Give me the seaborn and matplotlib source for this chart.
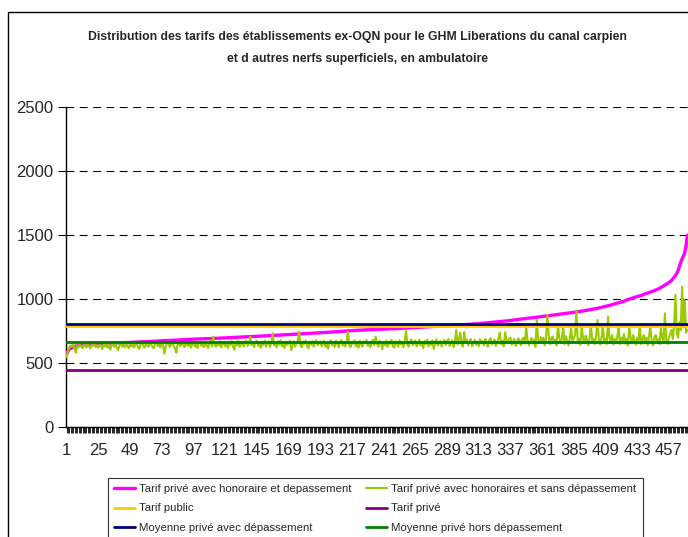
import matplotlib
matplotlib.use("Agg")
import matplotlib.pyplot as plt
from matplotlib.patches import Rectangle
from matplotlib.lines import Line2D
import numpy as np
import pandas as pd
import seaborn as sns

# ---------------- data ----------------
title = ("Distribution des tarifs des établissements ex-OQN pour le GHM Liberations du canal carpien\n"
         "et d autres nerfs superficiels, en ambulatoire")

tarif_avec_depassement = [
    570, 595, 610, 616, 620, 626, 631, 635, 637, 638, 640, 641, 642, 644, 645, 645, 646, 647, 648, 648, 649, 650, 650, 651,
    651, 652, 652, 653, 654, 654, 655, 656, 656, 657, 657, 658, 658, 659, 659, 660, 660, 661, 661, 662, 662, 662, 663, 663,
    664, 664, 664, 665, 665, 666, 666, 667, 667, 668, 668, 668, 669, 669, 670, 670, 671, 672, 672, 673, 673, 674, 675, 675,
    676, 676, 677, 677, 678, 678, 679, 679, 680, 680, 681, 681, 682, 682, 683, 684, 684, 685, 685, 686, 686, 687, 687, 688,
    688, 689, 689, 690, 690, 690, 691, 691, 691, 692, 692, 692, 693, 693, 694, 694, 695, 695, 696, 696, 697, 697, 698, 698,
    699, 699, 700, 700, 701, 701, 702, 702, 703, 703, 704, 704, 705, 705, 706, 706, 707, 707, 708, 708, 709, 709, 710, 711,
    711, 712, 712, 713, 713, 714, 714, 715, 715, 716, 717, 717, 718, 718, 719, 719, 720, 720, 721, 721, 722, 723, 723, 724,
    724, 725, 725, 726, 727, 727, 728, 728, 729, 730, 730, 731, 731, 732, 732, 733, 734, 734, 735, 736, 736, 737, 737, 738,
    739, 739, 740, 741, 741, 742, 743, 743, 744, 745, 745, 746, 747, 747, 748, 749, 749, 750, 751, 752, 752, 753, 754, 754,
    755, 756, 756, 757, 758, 758, 759, 759, 760, 760, 761, 761, 762, 762, 763, 763, 764, 764, 765, 765, 766, 766, 767, 767,
    768, 768, 768, 769, 769, 770, 770, 770, 771, 771, 772, 772, 773, 773, 774, 775, 775, 776, 776, 777, 778, 778, 779, 779,
    780, 780, 781, 781, 782, 783, 783, 784, 784, 785, 786, 786, 787, 787, 788, 788, 789, 790, 790, 791, 791, 792, 793, 793,
    794, 794, 795, 795, 796, 797, 797, 798, 798, 799, 800, 800, 801, 802, 803, 803, 804, 805, 805, 806, 807, 808, 809, 810,
    810, 811, 812, 813, 814, 815, 816, 817, 818, 819, 820, 821, 822, 823, 824, 825, 826, 827, 828, 829, 830, 831, 832, 833,
    835, 836, 837, 839, 840, 841, 843, 844, 845, 847, 848, 849, 850, 852, 853, 854, 855, 857, 858, 859, 860, 862, 863, 864,
    866, 867, 868, 869, 871, 872, 873, 875, 876, 877, 879, 880, 882, 883, 885, 886, 888, 889, 890, 891, 893, 894, 895, 897,
    898, 900, 901, 903, 904, 906, 908, 909, 911, 913, 915, 916, 918, 920, 922, 924, 926, 928, 930, 932, 935, 937, 940, 942,
    945, 947, 950, 952, 955, 958, 961, 964, 967, 970, 973, 976, 979, 982, 985, 990, 995, 998, 1002, 1005, 1008, 1012, 1015, 1018,
    1021, 1024, 1027, 1030, 1034, 1038, 1042, 1045, 1049, 1053, 1056, 1060, 1064, 1068, 1072, 1076, 1081, 1086, 1092, 1098, 1104, 1110, 1117, 1124,
    1131, 1138, 1148, 1160, 1172, 1186, 1203, 1225, 1255, 1290, 1315, 1338, 1360, 1420, 1500,
]

tarif_sans_depassement = [
    548, 600, 622, 640, 628, 646, 620, 582, 640, 626, 648, 632, 618, 646, 638, 624, 650, 630, 616, 644, 636, 652, 628, 640,
    622, 648, 636, 612, 650, 630, 644, 622, 652, 606, 640, 654, 628, 646, 620, 604, 642, 656, 630, 648, 624, 652, 638, 618,
    650, 632, 656, 624, 646, 660, 630, 614, 652, 662, 636, 622, 656, 640, 628, 660, 648, 626, 618, 656, 664, 634, 646, 624,
    660, 640, 574, 630, 656, 664, 628, 645, 660, 638, 620, 582, 650, 664, 634, 648, 666, 626, 640, 658, 636, 668, 622, 650,
    664, 630, 652, 618, 660, 672, 636, 650, 626, 668, 642, 620, 656, 674, 632, 708, 646, 628, 662, 640, 672, 624, 650, 666,
    634, 660, 618, 668, 644, 676, 630, 606, 664, 640, 676, 628, 652, 670, 632, 660, 678, 636, 650, 706, 640, 664, 626, 668,
    676, 636, 654, 620, 668, 644, 678, 630, 656, 672, 628, 662, 734, 640, 656, 624, 672, 646, 680, 632, 664, 620, 670, 644,
    658, 676, 604, 640, 672, 630, 660, 678, 746, 644, 626, 670, 652, 678, 636, 618, 668, 646, 674, 630, 662, 680, 640, 656,
    672, 634, 650, 676, 628, 662, 612, 666, 680, 640, 656, 628, 678, 650, 624, 668, 682, 638, 660, 630, 676, 747, 644, 626,
    670, 652, 680, 632, 664, 622, 676, 646, 630, 672, 656, 682, 636, 660, 624, 668, 684, 640, 708, 652, 630, 674, 660, 610,
    662, 640, 678, 628, 670, 652, 684, 636, 622, 672, 656, 630, 680, 648, 664, 626, 676, 755, 646, 630, 672, 686, 640, 660,
    678, 634, 654, 684, 640, 662, 618, 674, 650, 686, 632, 668, 644, 680, 612, 660, 688, 638, 654, 676, 630, 666, 684, 642,
    670, 690, 636, 660, 680, 626, 672, 760, 648, 682, 740, 650, 630, 745, 666, 686, 640, 672, 690, 634, 660, 684, 646, 670,
    632, 688, 656, 674, 640, 692, 660, 630, 680, 696, 648, 670, 686, 636, 662, 694, 740, 650, 676, 632, 742, 684, 660, 690,
    700, 646, 672, 690, 636, 664, 696, 676, 640, 688, 700, 654, 786, 680, 640, 670, 698, 652, 686, 630, 838, 690, 660, 704,
    676, 700, 640, 690, 877, 720, 650, 692, 710, 660, 684, 640, 800, 700, 662, 688, 795, 650, 712, 676, 640, 696, 780, 664,
    700, 720, 911, 668, 690, 646, 790, 700, 656, 716, 684, 640, 702, 800, 670, 690, 650, 720, 838, 680, 646, 700, 796, 664,
    690, 650, 864, 700, 672, 720, 646, 690, 660, 712, 780, 650, 700, 676, 730, 652, 690, 640, 790, 700, 660, 720, 680, 646,
    700, 676, 800, 650, 690, 720, 656, 700, 644, 712, 790, 668, 640, 700, 720, 662, 690, 650, 780, 700, 660, 890, 680, 650,
    700, 730, 760, 690, 800, 1034, 740, 700, 820, 760, 1098, 780, 994, 740, 760,
]

tarif_public = 791
tarif_prive = 450
moyenne_avec_depassement = 808
moyenne_hors_depassement = 669

labels = ["Tarif privé avec honoraire et depassement",
          "Tarif privé avec honoraires et sans dépassement",
          "Tarif public",
          "Tarif privé",
          "Moyenne privé avec dépassement",
          "Moyenne privé hors dépassement"]

y_ticks = [0, 500, 1000, 1500, 2000, 2500]
x_label_step = 24

# ---------------- figure ----------------
n = len(tarif_avec_depassement)
etab = np.arange(1, n + 1)
df = pd.DataFrame({"etab": etab,
                   "avec": tarif_avec_depassement,
                   "sans": tarif_sans_depassement})

sns.set_style("white")
plt.rcParams["font.family"] = ["Liberation Sans", "DejaVu Sans"]

W, H = 688, 537
fig = plt.figure(figsize=(W / 100, H / 100), dpi=100)
ax = fig.add_axes([66 / W, (H - 427.3) / H, (W - 66) / W, 320 / H])

c_mag = "#FF00FF"
c_lime = "#99CC00"
c_yel = "#FFCC00"
c_pur = "#800080"
c_navy = "#000080"
c_grn = "#008000"

sns.lineplot(data=df, x="etab", y="avec", ax=ax, color=c_mag, linewidth=2.4, zorder=3)
sns.lineplot(data=df, x="etab", y="sans", ax=ax, color=c_lime, linewidth=1.5, zorder=4)
ax.axhline(tarif_public, color=c_yel, linewidth=2.0, zorder=5)
ax.axhline(tarif_prive, color=c_pur, linewidth=2.0, zorder=5)
ax.axhline(moyenne_avec_depassement, color=c_navy, linewidth=2.0, zorder=5)
ax.axhline(moyenne_hors_depassement, color=c_grn, linewidth=2.0, zorder=5)

ax.set_xlim(0.5, n + 0.5)
ax.set_ylim(0, 2500)
ax.set_yticks(y_ticks)
ax.set_yticklabels([str(v) for v in y_ticks], fontsize=12)
ax.set_xticks(etab, minor=True)
major = etab[::x_label_step]
ax.set_xticks(major)
ax.set_xticklabels([str(v) for v in major], fontsize=12)
ax.tick_params(axis="x", which="both", direction="out", length=4, width=0.6,
               color="black", pad=7.5, bottom=True)
ax.tick_params(axis="y", which="major", direction="out", length=6, width=0.8,
               color="black", pad=3, left=True)
ax.set_xlabel("")
ax.set_ylabel("")

ax.grid(axis="y", color="black", linestyle=(0, (7, 5)), linewidth=0.8)
ax.set_axisbelow(True)
for s in ["top", "right"]:
    ax.spines[s].set_visible(False)
for s in ["left", "bottom"]:
    ax.spines[s].set_color("black")
    ax.spines[s].set_linewidth(1.0)

fig.text(357.5 / W, 1 - 48 / H, title, ha="center", va="center", fontsize=8.8,
         fontweight="bold", linespacing=2.1)

colors = [c_mag, c_lime, c_yel, c_pur, c_navy, c_grn]
widths = [2.4, 1.5, 2.0, 2.0, 2.0, 2.0]
handles = [Line2D([], [], color=c, lw=w) for c, w in zip(colors, widths)]
order = [0, 2, 4, 1, 3, 5]  # fill rows left-to-right
leg = fig.legend([handles[i] for i in order], [labels[i] for i in order],
                 ncol=2, loc="upper left",
                 bbox_to_anchor=(108 / W, 1 - 478 / H), fontsize=8.2,
                 frameon=True, fancybox=False, shadow=False,
                 handlelength=1.85, handletextpad=0.35, columnspacing=1.3,
                 labelspacing=0.83, borderpad=0.53, borderaxespad=0)
leg.get_frame().set_edgecolor("black")
leg.get_frame().set_linewidth(0.8)

fig.patches.append(Rectangle((8 / W, -0.2), 1.5, 1.2 - 12 / H, transform=fig.transFigure,
                             fill=False, edgecolor="black", linewidth=1.0, zorder=0))

fig.savefig("out.png", dpi=100)
